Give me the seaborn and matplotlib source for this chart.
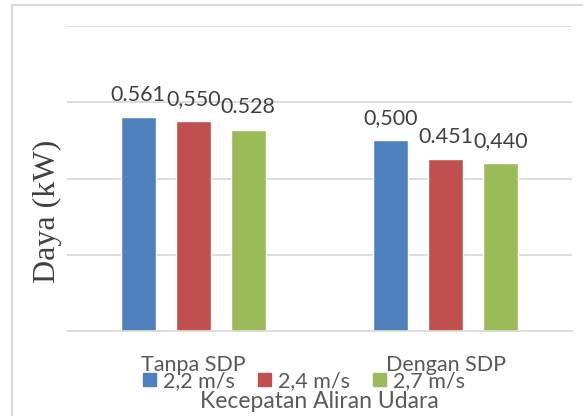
import matplotlib
matplotlib.use("Agg")
import matplotlib.pyplot as plt
import matplotlib.patches as mpatches
import pandas as pd
import seaborn as sns

# data
categories = ["Tanpa SDP", "Dengan SDP"]
speeds = ["2,2 m/s", "2,4 m/s", "2,7 m/s"]
power_tanpa = [0.561, 0.550, 0.528]
power_dengan = [0.500, 0.451, 0.440]
labels_tanpa = ["0.561", "0,550", "0.528"]
labels_dengan = ["0,500", "0.451", "0,440"]
colors = ["#4f81bd", "#c0504d", "#9bbb59"]

rows = []
for cat, vals in zip(categories, [power_tanpa, power_dengan]):
    for sp, v in zip(speeds, vals):
        rows.append({"kondisi": cat, "kecepatan": sp, "daya": v})
df = pd.DataFrame(rows)

sns.set_style("white")
plt.rcParams["font.family"] = ["Lato", "DejaVu Sans"]
grey = "#595959"
gridc = "#d9d9d9"
W, H = 583, 416

fig = plt.figure(figsize=(5.83, 4.16), dpi=100)
ax = fig.add_axes([67 / W, 1 - 331 / H, 505 / W, 305 / H])

sns.barplot(data=df, x="kondisi", y="daya", hue="kecepatan", order=categories,
            hue_order=speeds, palette=colors, width=0.654, gap=0.36,
            saturation=1, ax=ax, legend=False)

ax.set_ylim(0, 0.8)
ax.set_xlim(-0.5, 1.5)
ax.set_yticks([0.2, 0.4, 0.6, 0.8])
ax.set_yticklabels([])
ax.yaxis.grid(True, color=gridc, linewidth=1.3)
ax.set_axisbelow(True)
for s in ["top", "right", "left"]:
    ax.spines[s].set_visible(False)
ax.spines["bottom"].set_color(gridc)
ax.spines["bottom"].set_linewidth(1.3)
ax.tick_params(axis="both", length=0)
ax.tick_params(axis="x", pad=17, labelsize=15.5, labelcolor=grey)
ax.set_xlabel("")
ax.set_ylabel("")

# value labels
for i, cont in enumerate(ax.containers):
    ax.bar_label(cont, labels=[labels_tanpa[i], labels_dengan[i]], padding=9,
                 fontsize=15.5, color="#404040")

# y axis title in serif
fig.text(47 / W, 1 - 211 / H, "Daya (kW)", rotation=90, ha="center", va="center",
         fontsize=23, family="Liberation Serif", color="#404040")

# legend under category labels
handles = [mpatches.Patch(color=c, label=s) for c, s in zip(colors, speeds)]
fig.legend(handles=handles, loc="center", bbox_to_anchor=(304 / W, 1 - 381 / H),
           ncol=3, frameon=False, fontsize=15.5, labelcolor=grey,
           handlelength=0.6, handleheight=0.6, handletextpad=0.3,
           columnspacing=1.1, borderpad=0)

fig.text(319 / W, 1 - 401 / H, "Kecepatan Aliran Udara", ha="center", va="center",
         fontsize=16.5, color=grey)

# outer chart frame
frame = mpatches.Rectangle((12 / W, -0.1), 1.2, 1 - 5 / H + 0.1, transform=fig.transFigure,
                           fill=False, edgecolor=gridc, linewidth=1.5)
fig.patches.append(frame)

fig.savefig("out.png", dpi=100)
